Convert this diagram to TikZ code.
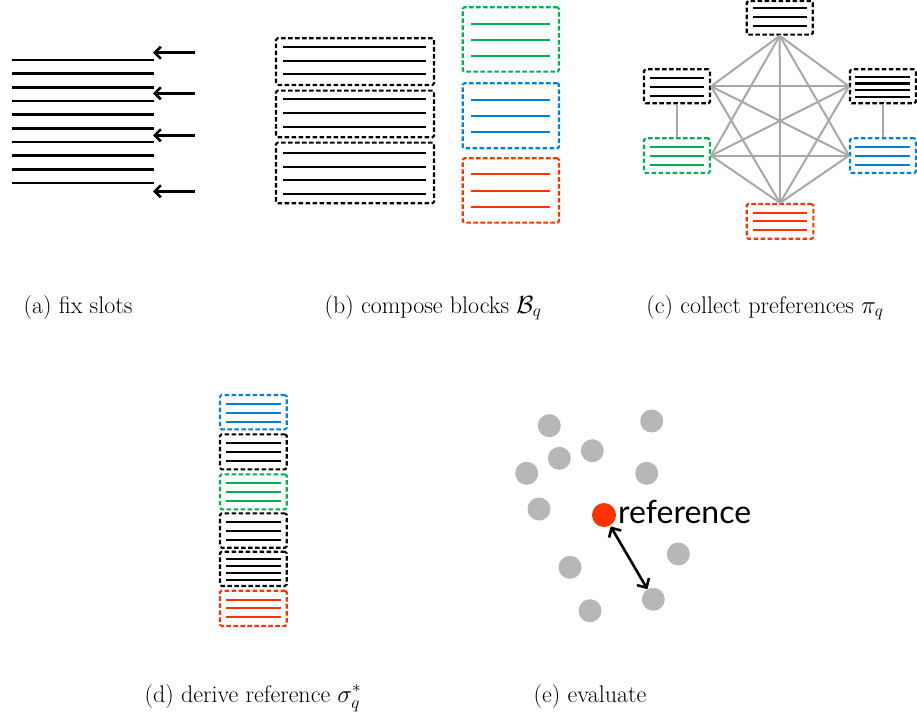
\documentclass[tikz,border=0pt]{standalone}
\usepackage{fontspec}
\newfontfamily\labelsans{Lato}
\usetikzlibrary{arrows.meta,fit}
\definecolor{bgreen}{RGB}{0,176,80}
\definecolor{bblue}{RGB}{0,128,208}
\definecolor{bred}{RGB}{255,51,0}
\definecolor{edgegray}{RGB}{168,168,168}
\definecolor{dotgray}{RGB}{183,183,183}
\tikzset{
  slotline/.style={line width=2.6pt},
  boxline/.style={line width=2.3pt},
  dbox/.style={draw=#1, dashed, dash pattern=on 4.5pt off 2.5pt, line width=2.1pt, rounded corners=1.5pt, inner sep=0pt},
  inarrow/.style={line width=2.6pt, -{Straight Barb[length=6pt,width=12pt]}},
  gedge/.style={draw=edgegray, line width=2pt},
  dot/.style={circle, fill=dotgray, minimum size=23pt, inner sep=0pt},
  refdot/.style={circle, fill=bred, minimum size=24pt, inner sep=0pt},
  caption/.style={anchor=base, inner sep=0pt, font=\fontsize{24}{28}\selectfont},
}
% \blk{name}{x1}{y1}{x2}{y2}{color}{lx1}{lx2}{ys}
\newcommand{\blk}[9]{%
  \node[dbox=#6, fit={(#2,#3)(#4,#5)}] (#1) {};
  \foreach \yy in {#9} \draw[boxline, #6] (#7,\yy) -- (#8,\yy);
}
\begin{document}
\begin{tikzpicture}[x=1pt,y=-1pt]
\useasboundingbox (0,0) rectangle (917,719);

% (a) fix slots
\foreach \yy in {60,73.7,87.4,101,114.7,128.4,142,155.7,169.4,183}
  \draw[slotline] (12,\yy) -- (154,\yy);
\foreach \yy/\nm in {52.7/a1,93.3/a2,135.3/a3,191.3/a4} {
  \coordinate (\nm s) at (195,\yy);
  \coordinate (\nm e) at (153,\yy);
  \draw[inarrow] (\nm s) -- (\nm e);
}

% (b) compose blocks
\blk{b1}{276}{38.3}{434}{85}{black}{283}{426}{46.7,60.7,74}
\blk{b2}{276}{90.7}{434}{137.3}{black}{283}{426}{99.3,113.3,126.7}
\blk{b3}{276}{142.7}{434}{203.3}{black}{283}{426}{152.7,166.7,180,194}
\blk{bg}{462.7}{7.3}{559}{71.7}{bgreen}{471}{550}{24,40,56}
\blk{bb}{462.7}{83.3}{559}{148.3}{bblue}{471}{550}{100,116,132.3}
\blk{br}{462.7}{158.3}{559}{222.7}{bred}{471}{550}{174,190.7,206.7}

% (c) collect preferences
\blk{ct}{746.7}{1.2}{812.7}{34.7}{black}{752.7}{806.7}{8.3,17.3,26}
\blk{cl}{644}{69.3}{710}{103.3}{black}{650}{704}{78.3,86.7,95.7}
\blk{cr}{850}{69.3}{915.8}{103.3}{black}{855.3}{910}{76.7,83.5,90.3,97.3}
\blk{cg}{644}{138.3}{710}{173}{bgreen}{650}{704}{147.3,156,164.7}
\blk{cb}{850}{138.3}{915.8}{173}{bblue}{855.3}{910}{147.3,156,164.7}
\blk{cre}{746.7}{204}{813.3}{238.7}{bred}{752.7}{807.3}{212.7,221.3,230}
\foreach \p/\q in {ct.south/cl.east, ct.south/cr.west, ct.south/cg.east, ct.south/cb.west, ct.south/cre.north,
                   cl.east/cr.west, cl.east/cb.west, cl.east/cre.north,
                   cg.east/cr.west, cg.east/cb.west, cg.east/cre.north,
                   cr.west/cre.north, cb.west/cre.north, cl.south/cg.north, cr.south/cb.north}
  \draw[gedge] (\p) -- (\q);

% (d) derive reference
\blk{d1}{220}{395}{286.7}{429.3}{bblue}{226}{280.7}{404,412.7,421.7}
\blk{d2}{220}{434.3}{286.7}{469.3}{black}{226}{280.7}{443.3,452,460.7}
\blk{d3}{220}{474.3}{286.7}{509.3}{bgreen}{226}{280.7}{483.3,492,500.7}
\blk{d4}{220}{513.3}{286.7}{547.7}{black}{226}{280.7}{522.3,531,539.7}
\blk{d5}{220}{551.7}{286.7}{586}{black}{226}{280.7}{559.3,566.3,573.3,580}
\blk{d6}{220}{590.7}{286.7}{626}{bred}{226}{280.7}{599.7,608.3,617}

% (e) evaluate
\foreach \xx/\yy/\nm in {549.3/425.7/e1, 651.7/421/e2, 592.3/450.7/e3, 559.3/458.3/e4,
  526.7/473.3/e5, 646.7/473.3/e6, 539/509/e7, 678.3/554/e8, 570/567.3/e9,
  653.3/599.3/e10, 590/610.7/e11}
  \node[dot] (\nm) at (\xx,\yy) {};
\node[refdot] (ref) at (604,515) {};
\node[anchor=base west, inner sep=0pt, font=\labelsans\fontsize{32}{36}\selectfont] (reflabel) at (618,523) {reference};
\draw[line width=2.6pt, {Straight Barb[length=7pt,width=14pt]}-{Straight Barb[length=7pt,width=14pt]}, shorten <=1pt, shorten >=0pt] (ref) -- (e10);

% captions
\node[caption] (capa) at (78,313) {(a) fix slots};
\node[caption] (capb) at (433,313) {(b) compose blocks $\mathcal{B}_q$};
\node[caption] (capc) at (765,313) {(c) collect preferences $\pi_q$};
\node[caption] (capd) at (253,702) {(d) derive reference $\sigma_q^*$};
\node[caption] (cape) at (590,702) {(e) evaluate};
\end{tikzpicture}
\end{document}
